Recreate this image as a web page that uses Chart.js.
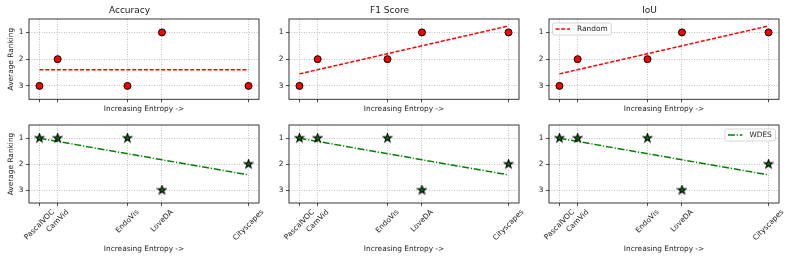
<!DOCTYPE html>
<html>
<head>
<meta charset="utf-8">
<script src="https://cdn.jsdelivr.net/npm/chart.js@4/dist/chart.umd.min.js"></script>
<style>
  body { margin: 0; background: #fff; }
  #wrap { position: relative; width: 793px; height: 261px; overflow: hidden; }
  #wrap canvas { position: absolute; }
</style>
</head>
<body>
<div id="wrap"></div>
<script>
// data
const datasetNames = ['PascalVOC', 'CamVid', 'EndoVis', 'LoveDA', 'Cityscapes'];
const entropy = [0.0, 0.087, 0.421, 0.586, 1.0];   // relative position on the entropy axis
const metricNames = ['Accuracy', 'F1 Score', 'IoU'];
const rankTicks = [1, 2, 3];

const randomAccuracy = [3, 2, 3, 1, 3];
const randomF1 = [3, 2, 2, 1, 1];
const randomIoU = [3, 2, 2, 1, 1];
const wdesAccuracy = [1, 1, 1, 3, 2];
const wdesF1 = [1, 1, 1, 3, 2];
const wdesIoU = [1, 1, 1, 3, 2];

// trend line ends (first dataset, last dataset)
const randomTrendAccuracy = [2.4, 2.4];
const randomTrendF1 = [2.55, 0.76];
const randomTrendIoU = [2.55, 0.76];
const wdesTrendAccuracy = [1.01, 2.42];
const wdesTrendF1 = [1.01, 2.42];
const wdesTrendIoU = [1.01, 2.42];

const FONT = '"DejaVu Sans", sans-serif';
const TXT = '#1a1a1a';
const FS = 7.4;

// filled 5 point star marker
function starImage() {
  const c = document.createElement('canvas');
  c.width = 11; c.height = 11;
  const g = c.getContext('2d');
  g.beginPath();
  for (let i = 0; i < 10; i++) {
    const r = i % 2 ? 1.7 : 4.4;
    const a = -Math.PI / 2 + i * Math.PI / 5;
    g.lineTo(5.5 + r * Math.cos(a), 5.6 + r * Math.sin(a));
  }
  g.closePath();
  g.fillStyle = '#008000';
  g.fill();
  g.lineWidth = 1.1;
  g.strokeStyle = '#000';
  g.stroke();
  return c;
}
const STAR = starImage();

function makeChart(row, col, values, trend, lineLabel) {
  const cv = document.createElement('canvas');
  const h = row === 0 ? 120 : 141;
  cv.width = 265; cv.height = h;
  cv.style.left = (260 * col) + 'px';
  cv.style.top = (row === 0 ? 0 : 120) + 'px';
  document.getElementById('wrap').appendChild(cv);

  const isTop = row === 0;
  const lineColor = isTop ? '#ff0000' : '#008000';
  const dash = isTop ? [4, 1.8] : [7, 1.8, 1.2, 1.8];

  const frame = {
    id: 'frame',
    afterDraw(chart) {
      const a = chart.chartArea, ctx = chart.ctx;
      ctx.save();
      ctx.strokeStyle = '#222';
      ctx.lineWidth = 0.9;
      ctx.strokeRect(a.left, a.top, a.right - a.left, a.bottom - a.top);

      // rotated dataset names under the bottom row
      if (!isTop) {
        const xs = chart.scales.x;
        ctx.font = FS + 'px ' + FONT;
        ctx.fillStyle = TXT;
        ctx.textAlign = 'center';
        ctx.textBaseline = 'middle';
        datasetNames.forEach((name, i) => {
          const x = xs.getPixelForValue(entropy[i]);
          const w = ctx.measureText(name).width;
          const side = (w + FS * 1.16) * Math.SQRT1_2;
          ctx.save();
          ctx.translate(x, a.bottom + 5 + side / 2);
          ctx.rotate(-Math.PI / 4);
          ctx.fillText(name, 0, 0);
          ctx.restore();
        });
      }

      // legend in the last column
      if (col === 2) {
        ctx.font = FS + 'px ' + FONT;
        const tw = ctx.measureText(lineLabel).width;
        const bw = 24.5 + tw + 3.7, bh = 12;
        const bx = isTop ? a.left + 3.5 : a.right - 3.5 - bw;
        const by = a.top + 4;
        ctx.beginPath();
        ctx.roundRect(bx, by, bw, bh, 2);
        ctx.fillStyle = 'rgba(255,255,255,0.8)';
        ctx.fill();
        ctx.strokeStyle = '#cccccc';
        ctx.lineWidth = 0.8;
        ctx.stroke();
        ctx.beginPath();
        ctx.setLineDash(dash);
        ctx.strokeStyle = lineColor;
        ctx.lineWidth = 1.5;
        ctx.moveTo(bx + 3, by + bh / 2);
        ctx.lineTo(bx + 17.5, by + bh / 2);
        ctx.stroke();
        ctx.setLineDash([]);
        ctx.fillStyle = TXT;
        ctx.textAlign = 'left';
        ctx.textBaseline = 'middle';
        ctx.fillText(lineLabel, bx + 24.5, by + bh / 2 + 0.3);
      }
      ctx.restore();
    }
  };

  return new Chart(cv, {
    type: 'scatter',
    data: {
      datasets: [
        {
          data: entropy.map((x, i) => ({ x, y: values[i] })),
          pointStyle: isTop ? 'circle' : STAR,
          pointRadius: 3.5,
          pointBackgroundColor: '#ff0000',
          pointBorderColor: '#000',
          pointBorderWidth: 1,
          showLine: false
        },
        {
          label: lineLabel,
          data: [{ x: entropy[0], y: trend[0] }, { x: entropy[entropy.length - 1], y: trend[1] }],
          showLine: true,
          borderColor: lineColor,
          borderWidth: 1.5,
          borderDash: dash,
          pointRadius: 0
        }
      ]
    },
    options: {
      responsive: false,
      animation: false,
      layout: { padding: { left: 0, right: 6, top: isTop ? 0 : 3, bottom: 0 } },
      plugins: {
        legend: { display: false },
        tooltip: { enabled: false },
        title: {
          display: isTop,
          text: metricNames[col],
          color: TXT,
          font: { family: FONT, size: 9, weight: 'normal' },
          padding: { top: 5.6, bottom: 2.6 }
        }
      },
      scales: {
        x: {
          type: 'linear',
          min: -0.05,
          max: 1.05,
          afterBuildTicks: s => { s.ticks = entropy.map(v => ({ value: v })); },
          afterFit: s => { s.height = isTop ? 20.7 : 58; s.paddingLeft = 0; s.paddingRight = 0; },
          ticks: { display: false },
          grid: { color: '#b0b0b0', lineWidth: 0.8, tickLength: 3, tickColor: '#222', tickWidth: 0.8, tickBorderDash: [] },
          border: { display: false, dash: [1, 1.5] },
          title: {
            display: true,
            text: 'Increasing Entropy ->',
            color: TXT,
            font: { family: FONT, size: FS },
            padding: { top: 0, bottom: isTop ? 6 : 7.5 }
          }
        },
        y: {
          type: 'linear',
          reverse: true,
          min: 0.5,
          max: 3.5,
          afterBuildTicks: s => { s.ticks = rankTicks.map(v => ({ value: v })); },
          afterFit: s => { s.width = 29; s.paddingTop = 0; s.paddingBottom = 0; },
          ticks: { color: TXT, font: { family: FONT, size: FS }, padding: 2.5 },
          grid: { color: '#b0b0b0', lineWidth: 0.8, tickLength: 3, tickColor: '#222', tickWidth: 0.8, tickBorderDash: [] },
          border: { display: false, dash: [1, 1.5] },
          title: {
            display: col === 0,
            text: 'Average Ranking',
            color: TXT,
            font: { family: FONT, size: FS },
            padding: { top: 6.5, bottom: 0 }
          }
        }
      }
    },
    plugins: [frame]
  });
}

makeChart(0, 0, randomAccuracy, randomTrendAccuracy, 'Random');
makeChart(0, 1, randomF1, randomTrendF1, 'Random');
makeChart(0, 2, randomIoU, randomTrendIoU, 'Random');
makeChart(1, 0, wdesAccuracy, wdesTrendAccuracy, 'WDES');
makeChart(1, 1, wdesF1, wdesTrendF1, 'WDES');
makeChart(1, 2, wdesIoU, wdesTrendIoU, 'WDES');
</script>
</body>
</html>
